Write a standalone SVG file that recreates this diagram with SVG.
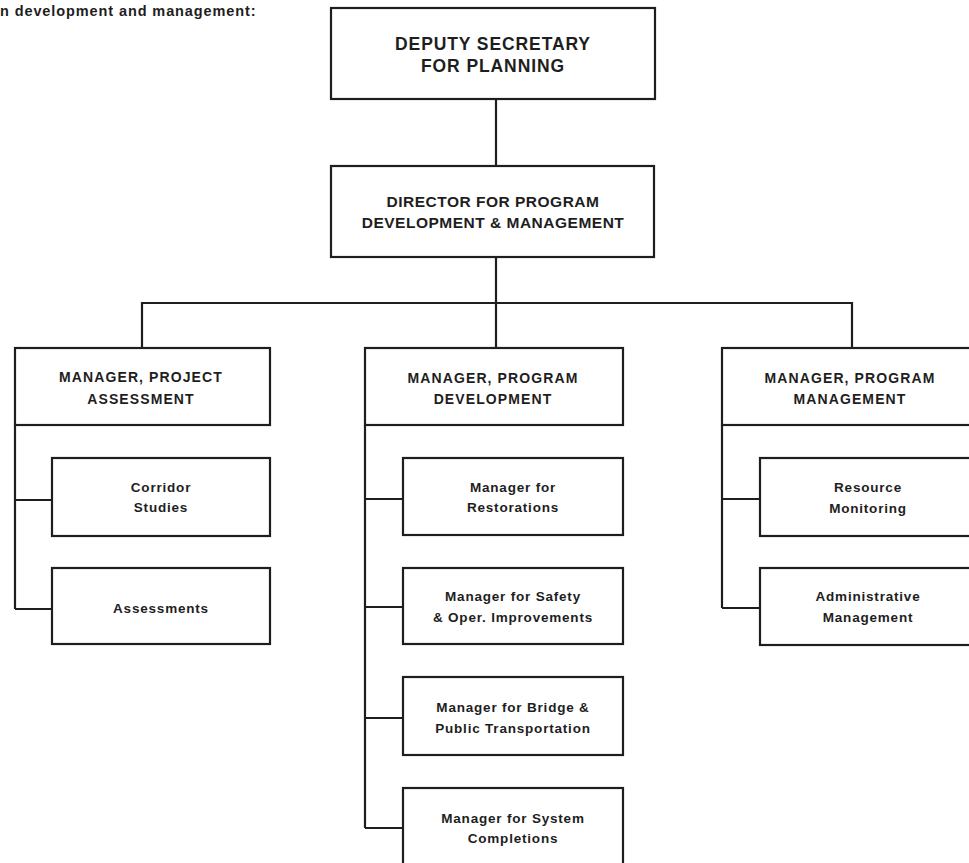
<svg xmlns="http://www.w3.org/2000/svg" width="969" height="863" viewBox="0 0 969 863">
<style>
.box{fill:#fff;stroke:#1e1e1e;stroke-width:2.2}
.ln{fill:none;stroke:#1e1e1e;stroke-width:2.2}
text{font-family:"Liberation Sans",Arial,sans-serif;font-weight:bold;fill:#1e1e1e;text-anchor:middle}
.t0{font-size:17.5px;letter-spacing:0.9px}
.t1{font-size:15.5px;letter-spacing:0.5px}
.t2{font-size:14px;letter-spacing:1.1px}
.t3{font-size:13.5px;letter-spacing:0.8px}
.hd{font-size:14.5px;letter-spacing:0.9px;text-anchor:start}
</style>
<rect width="969" height="863" fill="#fff"/>
<text class="hd" x="0" y="16">n development and management:</text>
<g id="connectors">
<path class="ln" d="M496 99V166"/>
<path class="ln" d="M496 257V348M142 348V303H852V348"/>
<path class="ln" d="M15 425V609M15 500H52M15 609H52"/>
<path class="ln" d="M365 425V828M365 499H403M365 607H403M365 718H403M365 828H403"/>
<path class="ln" d="M722 425V608M722 499H760M722 608H760"/>
</g>
<g id="deputy"><rect class="box" x="331" y="8" width="324" height="91"/>
<text class="t0" x="493" y="50">DEPUTY SECRETARY</text><text class="t0" x="493" y="72">FOR PLANNING</text></g>
<g id="director"><rect class="box" x="331" y="166" width="323" height="91"/>
<text class="t1" x="493" y="207">DIRECTOR FOR PROGRAM</text><text class="t1" x="493" y="228">DEVELOPMENT &amp; MANAGEMENT</text></g>
<g id="mgr-project"><rect class="box" x="15" y="348" width="255" height="77"/>
<text class="t2" x="141" y="382">MANAGER, PROJECT</text><text class="t2" x="141" y="404">ASSESSMENT</text></g>
<g id="mgr-development"><rect class="box" x="365" y="348" width="258" height="77"/>
<text class="t2" x="493" y="383">MANAGER, PROGRAM</text><text class="t2" x="493" y="404">DEVELOPMENT</text></g>
<g id="mgr-management"><rect class="box" x="722" y="348" width="270" height="77"/>
<text class="t2" x="850" y="383">MANAGER, PROGRAM</text><text class="t2" x="850" y="404">MANAGEMENT</text></g>
<g id="corridor"><rect class="box" x="52" y="458" width="218" height="78"/>
<text class="t3" x="161" y="492">Corridor</text><text class="t3" x="161" y="512">Studies</text></g>
<g id="assessments"><rect class="box" x="52" y="568" width="218" height="76"/>
<text class="t3" x="161" y="613">Assessments</text></g>
<g id="restorations"><rect class="box" x="403" y="458" width="220" height="77"/>
<text class="t3" x="513" y="492">Manager for</text><text class="t3" x="513" y="512">Restorations</text></g>
<g id="safety"><rect class="box" x="403" y="568" width="220" height="76"/>
<text class="t3" x="513" y="601">Manager for Safety</text><text class="t3" x="513" y="622">&amp; Oper. Improvements</text></g>
<g id="bridge"><rect class="box" x="403" y="677" width="220" height="78"/>
<text class="t3" x="513" y="712">Manager for Bridge &amp;</text><text class="t3" x="513" y="733">Public Transportation</text></g>
<g id="system"><rect class="box" x="403" y="788" width="220" height="90"/>
<text class="t3" x="513" y="823">Manager for System</text><text class="t3" x="513" y="843">Completions</text></g>
<g id="resource"><rect class="box" x="760" y="458" width="230" height="78"/>
<text class="t3" x="868" y="492">Resource</text><text class="t3" x="868" y="513">Monitoring</text></g>
<g id="admin"><rect class="box" x="760" y="568" width="230" height="77"/>
<text class="t3" x="868" y="601">Administrative</text><text class="t3" x="868" y="622">Management</text></g>
</svg>
